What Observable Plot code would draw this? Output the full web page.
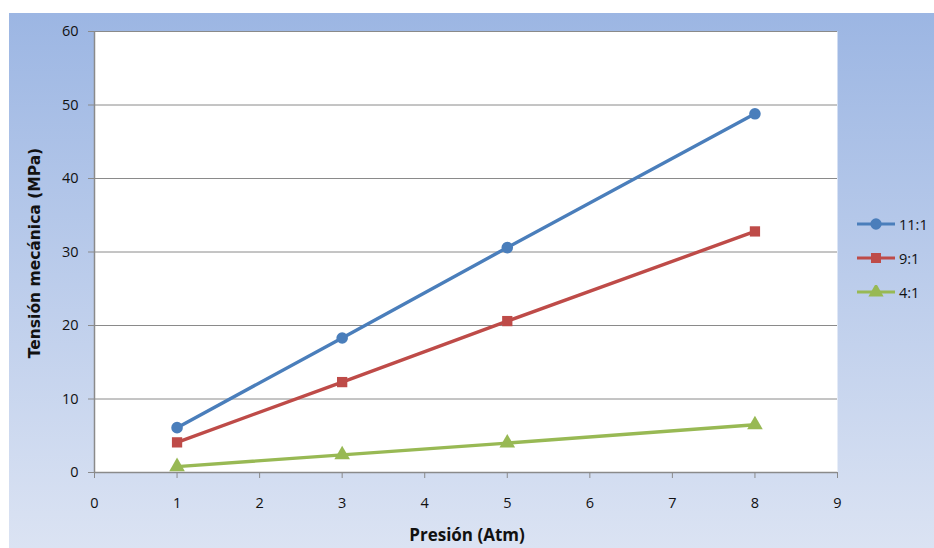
<!DOCTYPE html>
<html>
<head>
<meta charset="utf-8">
<script src="https://cdn.jsdelivr.net/npm/d3@7"></script>
<script src="https://cdn.jsdelivr.net/npm/@observablehq/plot@0.6"></script>
<style>
  body { margin: 0; background: #fff; }
  #frame { position: relative; width: 934px; height: 548px; overflow: hidden; font-family: "Open Sans", sans-serif; }
  #bg { position: absolute; left: 9px; top: 13px; right: 0; bottom: 0; background: linear-gradient(#9cb6e3, #dbe3f3); }
  #chart { position: absolute; left: 0; top: 0; }
  #chart svg text { font-size: 14.5px; font-family: "Open Sans", sans-serif; }
  #ytitle { position: absolute; left: 35px; top: 253px; transform: translate(-50%, -50%) rotate(-90deg); white-space: nowrap;
            font-family: "DejaVu Sans", sans-serif; font-weight: bold; font-size: 15.5px; color: #111; }
  #xtitle { position: absolute; left: 467px; top: 534px; transform: translate(-50%, -50%); white-space: nowrap;
            font-family: "Open Sans", sans-serif; font-weight: bold; font-size: 17px; color: #111; }
  #legend { position: absolute; left: 856px; top: 207px; font-size: 14.5px; color: #111; }
  .row { display: flex; align-items: center; height: 34px; }
  .row svg { margin-right: 3px; }
</style>
</head>
<body>
<div id="frame">
  <div id="bg"></div>
  <div id="chart"></div>
  <div id="ytitle"></div>
  <div id="xtitle"></div>
  <div id="legend"></div>
</div>
<script>
// Pressure (Atm) values on the x axis
const presion = [1, 3, 5, 8];
// Mechanical stress (MPa) for each mixing ratio
const serie11 = [6.1, 18.3, 30.6, 48.8];
const serie9 = [4.1, 12.3, 20.6, 32.8];
const serie4 = [0.8, 2.4, 4.0, 6.5];

const series = ["11:1", "9:1", "4:1"];
const colores = ["#4a7ebb", "#be4b48", "#98b954"];
const simbolos = ["circle", "square", "triangle"];

const xTicks = [0, 1, 2, 3, 4, 5, 6, 7, 8, 9];
const yTicks = [0, 10, 20, 30, 40, 50, 60];

const xTitulo = "Presión (Atm)";
const yTitulo = "Tensión mecánica (MPa)";

const valores = [serie11, serie9, serie4];
const datos = series.flatMap((s, i) => presion.map((p, j) => ({serie: s, presion: p, tension: valores[i][j]})));

const gris = "#8a8a8a";

const chart = Plot.plot({
  width: 934,
  height: 548,
  marginLeft: 94,
  marginRight: 97,
  marginTop: 31,
  marginBottom: 76,
  style: {background: "transparent", fontFamily: "'Open Sans', sans-serif", fontSize: "14px", color: "#111"},
  x: {domain: [0, 9], ticks: xTicks, label: null},
  y: {domain: [0, 60], ticks: yTicks, label: null},
  color: {domain: series, range: colores},
  symbol: {domain: series, range: simbolos},
  marks: [
    Plot.frame({fill: "white", stroke: null}),
    Plot.gridY(yTicks, {stroke: gris, strokeOpacity: 1, strokeWidth: 1}),
    Plot.ruleX([0], {stroke: gris, strokeWidth: 1.5}),
    Plot.ruleY([0], {stroke: gris, strokeWidth: 1.5}),
    Plot.axisY(yTicks, {tickSize: 6, tickPadding: 10, stroke: gris, label: null, fill: "#111", fontSize: 14}),
    Plot.axisX(xTicks, {tickSize: 6, tickPadding: 19, stroke: gris, label: null, fill: "#111", fontSize: 14}),
    Plot.line(datos, {x: "presion", y: "tension", z: "serie", stroke: "serie", strokeWidth: 3.4}),
    Plot.dot(datos, {x: "presion", y: "tension", fill: "serie", symbol: "serie", r: 5.8, stroke: null})
  ]
});
document.getElementById("chart").appendChild(chart);

document.getElementById("ytitle").textContent = yTitulo;
document.getElementById("xtitle").textContent = xTitulo;

// Legend: a short line with the series marker, followed by its name
const legend = d3.select("#legend");
series.forEach((s, i) => {
  const row = legend.append("div").attr("class", "row");
  const svg = row.append("svg").attr("width", 40).attr("height", 14);
  svg.append("line").attr("x1", 1).attr("x2", 39).attr("y1", 7).attr("y2", 7)
    .attr("stroke", colores[i]).attr("stroke-width", 3);
  const sym = d3.symbol().type({circle: d3.symbolCircle, square: d3.symbolSquare, triangle: d3.symbolTriangle}[simbolos[i]]).size(100);
  svg.append("path").attr("d", sym()).attr("transform", "translate(20,7)").attr("fill", colores[i]);
  row.append("span").text(s);
});
</script>
</body>
</html>
